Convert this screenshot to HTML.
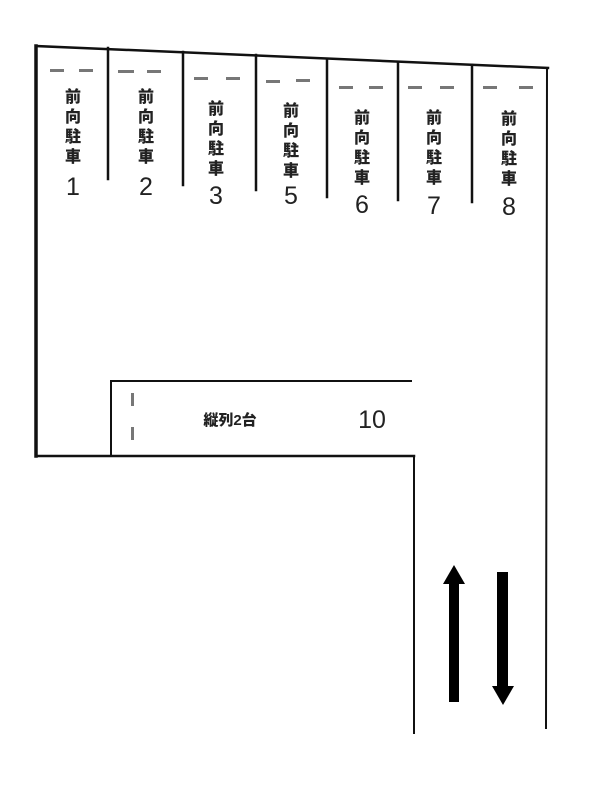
<!DOCTYPE html>
<html><head><meta charset="utf-8"><style>
html,body{margin:0;padding:0;background:#fff;}
svg{display:block;}
.k{font-family:"Liberation Sans","Noto Sans CJK JP",sans-serif;font-weight:900;font-size:16px;fill:#222;text-anchor:middle;}
.n{font-family:"Liberation Sans",sans-serif;font-size:25px;fill:#222;text-anchor:middle;}
</style></head><body>
<svg width="602" height="790" viewBox="0 0 602 790" xmlns="http://www.w3.org/2000/svg">
<g stroke="#111" fill="none" stroke-linecap="square">
<line x1="36" y1="46" x2="548" y2="68" stroke-width="2.5"/>
<line x1="36" y1="46" x2="36" y2="456" stroke-width="3.5"/>
<line x1="36" y1="456" x2="414" y2="456" stroke-width="2.5"/>
<line x1="414" y1="456" x2="414" y2="733" stroke-width="2"/>
<line x1="547" y1="68" x2="546" y2="728" stroke-width="2"/>
<line x1="108" y1="48" x2="108" y2="179" stroke-width="2.5"/>
<line x1="183" y1="52" x2="183" y2="185" stroke-width="2.5"/>
<line x1="256" y1="55" x2="256" y2="190" stroke-width="2.5"/>
<line x1="327" y1="59" x2="327" y2="197" stroke-width="2.5"/>
<line x1="398" y1="62" x2="398" y2="200" stroke-width="2.5"/>
<line x1="472" y1="65" x2="472" y2="202" stroke-width="2.5"/>
<line x1="111" y1="381" x2="411" y2="381" stroke-width="2"/>
<line x1="111" y1="381" x2="111" y2="456" stroke-width="2"/>
</g>
<g fill="#777">
<rect x="50" y="69" width="14" height="3"/><rect x="79" y="69" width="14" height="3"/>
<rect x="118" y="70" width="16" height="3"/><rect x="147" y="70" width="14" height="3"/>
<rect x="194" y="77" width="14" height="3"/><rect x="226" y="77" width="14" height="3"/>
<rect x="266" y="80" width="14" height="3"/><rect x="296" y="79" width="14" height="3"/>
<rect x="339" y="86" width="14" height="3"/><rect x="369" y="86" width="14" height="3"/>
<rect x="408" y="86" width="14" height="3"/><rect x="440" y="86" width="14" height="3"/>
<rect x="483" y="86" width="14" height="3"/><rect x="519" y="86" width="14" height="3"/>
<rect x="131" y="393" width="3" height="13"/><rect x="131" y="427" width="3" height="13"/>
</g>
<g class="k">
<text x="73" y="102">前</text><text x="73" y="122">向</text><text x="73" y="142">駐</text><text x="73" y="162">車</text>
<text x="146" y="102">前</text><text x="146" y="122">向</text><text x="146" y="142">駐</text><text x="146" y="162">車</text>
<text x="216" y="114">前</text><text x="216" y="134">向</text><text x="216" y="154">駐</text><text x="216" y="174">車</text>
<text x="291" y="116">前</text><text x="291" y="136">向</text><text x="291" y="156">駐</text><text x="291" y="176">車</text>
<text x="362" y="123">前</text><text x="362" y="143">向</text><text x="362" y="163">駐</text><text x="362" y="183">車</text>
<text x="434" y="123">前</text><text x="434" y="143">向</text><text x="434" y="163">駐</text><text x="434" y="183">車</text>
<text x="509" y="124">前</text><text x="509" y="144">向</text><text x="509" y="164">駐</text><text x="509" y="184">車</text>
<text x="230" y="425" style="font-size:15px">縦列2台</text>
</g>
<g class="n">
<text x="73" y="195">1</text><text x="146" y="195">2</text><text x="216" y="204">3</text>
<text x="291" y="204">5</text><text x="362" y="213">6</text><text x="434" y="214">7</text><text x="509" y="215">8</text>
<text x="372" y="428">10</text>
</g>
<g fill="#000">
<rect x="449" y="582" width="10" height="120"/>
<polygon points="443,584 465,584 454,565"/>
<rect x="497" y="572" width="11" height="116"/>
<polygon points="492,686 514,686 503,705"/>
</g>
</svg>
</body></html>
